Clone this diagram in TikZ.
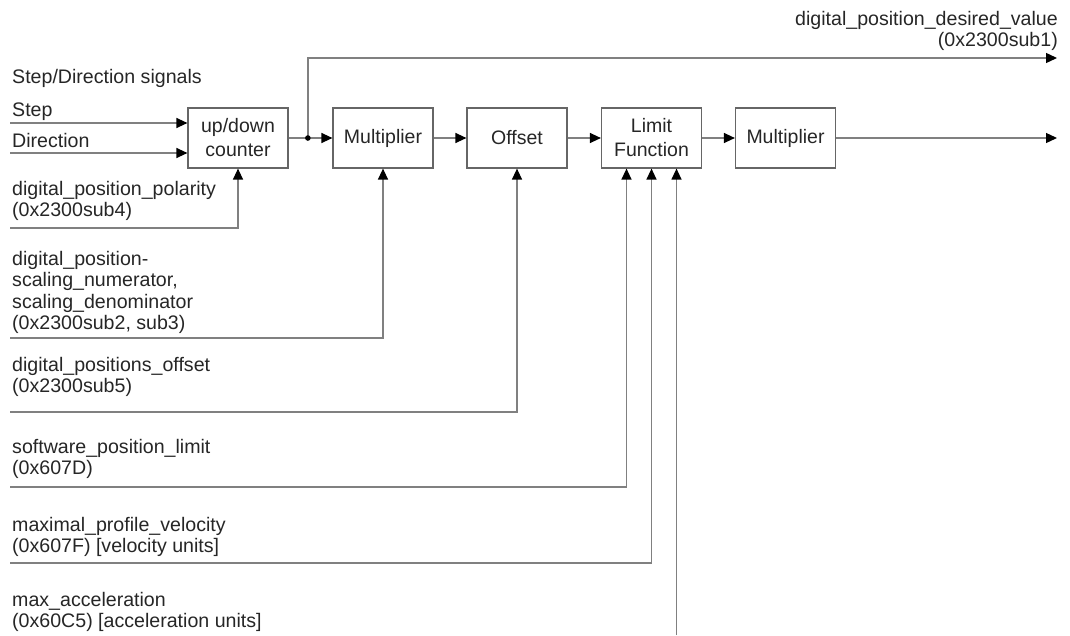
\documentclass[tikz,border=0pt]{standalone}
\usepackage{fontspec}
\setmainfont{Liberation Sans}
\usetikzlibrary{arrows.meta,calc}

\tikzset{
  blk/.style={draw=black!60, line width=1.2pt, minimum width=100pt, minimum height=60pt, align=center, inner sep=0pt, text=black!85, font=\fontsize{19.5}{24}\selectfont},
  lbl/.style={anchor=north west, align=left, inner sep=0pt, text=black!85},
  sig/.style={draw=black!50, line width=1.3pt, -{Triangle[length=11pt,width=10pt,color=black]}},
}

\begin{document}
\begin{tikzpicture}[x=1pt,y=-1pt,font=\fontsize{19.6}{21.5}\selectfont]
  \useasboundingbox (0,0) rectangle (1070,635);

  \node (cnt) at (238,138) [blk] {up/down\\counter};
  \node (mulA) at (383,138) [blk] {Multiplier};
  \node (ofs) at (517,138) [blk] {Offset};
  \node (lim) at (651.5,138) [blk] {Limit\\Function};
  \node (mulB) at (785.5,138) [blk] {Multiplier};

  \node (tsd) at (12,69) [lbl] {Step/Direction signals};
  \node (tstp) at (12,103) [lbl] {Step};
  \node (tdir) at (12,133) [lbl] {Direction};
  \node (tpol) at (12,181) [lbl] {digital\_position\_polarity\\(0x2300sub4)};
  \node (tsca) at (12,251) [lbl] {digital\_position-\\scaling\_numerator,\\scaling\_denominator\\(0x2300sub2, sub3)};
  \node (tofs) at (12,357) [lbl] {digital\_positions\_offset\\(0x2300sub5)};
  \node (tswl) at (12,439) [lbl] {software\_position\_limit\\(0x607D)};
  \node (tvel) at (12,517) [lbl] {maximal\_profile\_velocity\\(0x607F) [velocity units]};
  \node (tacc) at (12,592) [lbl] {max\_acceleration\\(0x60C5) [acceleration units]};
  \node (tdes) at (1058,11) [lbl, anchor=north east, align=right] {digital\_position\_desired\_value\\(0x2300sub1)};

  \coordinate (stp) at (10,123);
  \coordinate (dir) at (10,153);
  \coordinate (pol) at (10,228);
  \coordinate (sca) at (10,338);
  \coordinate (ofsin) at (10,412);
  \coordinate (swl) at (10,487);
  \coordinate (vel) at (10,563);
  \coordinate (acc) at (676.5,635);
  \coordinate (dot) at ($(cnt.east)!0.44!(mulA.west)$);
  \coordinate (desout) at (1057,58);
  \coordinate (out) at (1057,138);

  \draw [sig] (stp) -- (stp -| cnt.west);
  \draw [sig] (dir) -- (dir -| cnt.west);
  \draw [sig] (cnt.east) -- (mulA.west);
  \draw [sig] (dot) |- (desout);
  \fill [black] (dot) circle (2.8pt);
  \draw [sig] (mulA.east) -- (ofs.west);
  \draw [sig] (ofs.east) -- (lim.west);
  \draw [sig] (lim.east) -- (mulB.west);
  \draw [sig] (mulB.east) -- (out);

  \draw [sig] (pol) -| (cnt.south);
  \draw [sig] (sca) -| (mulA.south);
  \draw [sig] (ofsin) -| (ofs.south);
  \draw [sig] (swl) -| ([xshift=-25pt]lim.south);
  \draw [sig] (vel) -| (lim.south);
  \draw [sig] (acc) -- ([xshift=25pt]lim.south);
\end{tikzpicture}
\end{document}
